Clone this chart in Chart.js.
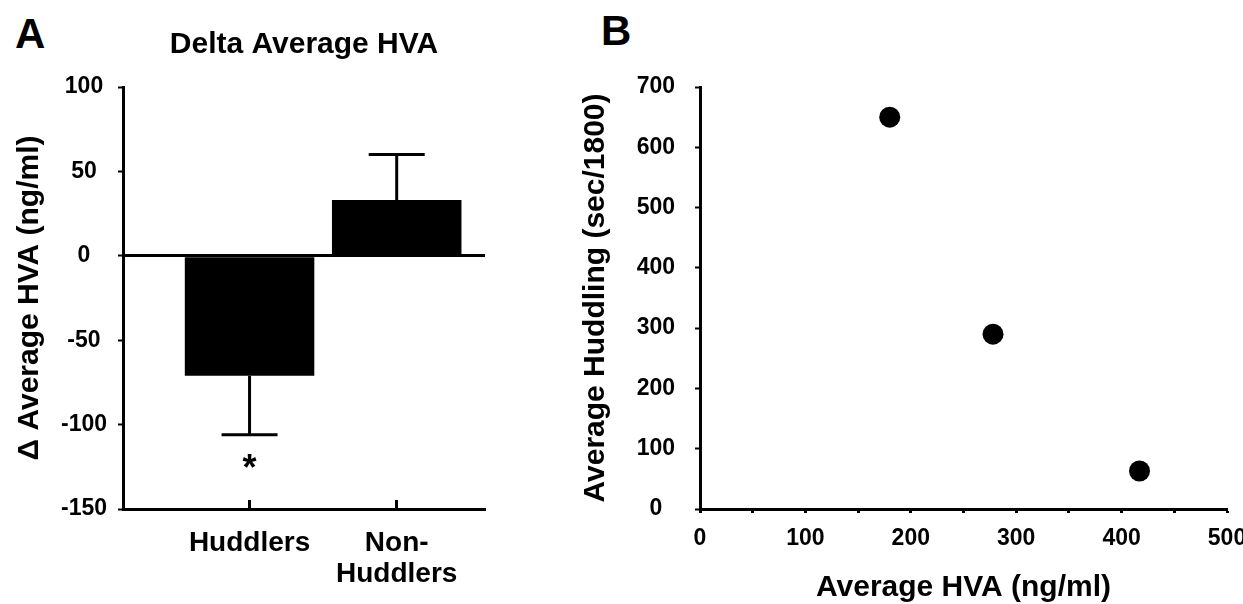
<!DOCTYPE html>
<html>
<head>
<meta charset="utf-8">
<script src="https://cdn.jsdelivr.net/npm/chart.js@4/dist/chart.umd.min.js"></script>
<style>
  html, body { margin: 0; padding: 0; background: #fff; }
  body { width: 1243px; height: 604px; position: relative; overflow: hidden; }
  .panel { position: absolute; top: 0; height: 604px; }
  #boxA { left: 0; width: 520px; }
  #boxB { left: 540px; width: 703px; }
  .letter { position: absolute; font: bold 42px 'Liberation Sans', Arial, sans-serif; line-height: 1; color: #000; }
</style>
</head>
<body>
<div class="letter" style="left:15px; top:13px;">A</div>
<div class="letter" style="left:601px; top:10px;">B</div>
<div class="panel" id="boxA"><canvas id="chartA"></canvas></div>
<div class="panel" id="boxB"><canvas id="chartB"></canvas></div>
<script>
// panel A: change in HVA per group
const groupLabels = ['Huddlers', ['Non-', 'Huddlers']];
const deltaHVA = [-71, 33];
const deltaErr = [35, 27];
const significance = ['*', ''];
const deltaTicks = [-150, -100, -50, 0, 50, 100];

// panel B: huddling vs HVA
const hvaAvg = [180, 278, 417];
const huddlingAvg = [650, 290, 63];
const hvaTicks = [0, 50, 100, 150, 200, 250, 300, 350, 400, 450, 500];
const huddlingTicks = [0, 100, 200, 300, 400, 500, 600, 700];

const FONT = "'Liberation Sans', Arial, sans-serif";
Chart.defaults.font.family = FONT;
Chart.defaults.font.weight = 'bold';
Chart.defaults.color = '#000';

const errorBars = {
  id: 'errorBars',
  afterDatasetsDraw(chart) {
    const ctx = chart.ctx;
    const x = chart.scales.x, y = chart.scales.y;
    ctx.save();
    ctx.strokeStyle = '#000';
    ctx.fillStyle = '#000';
    ctx.lineWidth = 3;
    deltaHVA.forEach((v, i) => {
      const px = x.getPixelForValue(i + 1);
      const end = v < 0 ? v - deltaErr[i] : v + deltaErr[i];
      const y0 = y.getPixelForValue(v);
      const y1 = y.getPixelForValue(end);
      ctx.beginPath();
      ctx.moveTo(px, y0);
      ctx.lineTo(px, y1);
      ctx.moveTo(px - 28, y1);
      ctx.lineTo(px + 28, y1);
      ctx.stroke();
      if (significance[i]) {
        ctx.font = 'bold 36px ' + FONT;
        ctx.textAlign = 'center';
        ctx.textBaseline = 'middle';
        ctx.fillText(significance[i], px, y1 + 35);
      }
    });
    ctx.restore();
  }
};

new Chart(document.getElementById('chartA'), {
  type: 'bar',
  data: {
    datasets: [{
      data: deltaHVA.map((v, i) => ({ x: i + 1, y: v })),
      backgroundColor: '#000',
      borderWidth: 0,
      categoryPercentage: 1,
      barPercentage: 0.88
    }]
  },
  options: {
    responsive: true,
    maintainAspectRatio: false,
    animation: false,
    events: [],
    layout: { padding: { left: 0, right: 35, top: 0, bottom: 0 } },
    plugins: {
      legend: { display: false },
      tooltip: { enabled: false },
      title: {
        display: true,
        text: 'Delta Average HVA',
        fullSize: false,
        font: { size: 30, weight: 'bold', lineHeight: 1.2 },
        color: '#000',
        padding: { top: 27, bottom: 24 }
      }
    },
    scales: {
      x: {
        type: 'linear',
        min: 0.14,
        max: 2.6,
        offset: false,
        afterBuildTicks: s => { s.ticks = groupLabels.map((g, i) => ({ value: i + 1 })); },
        afterFit: s => { s.height = 95; s.paddingLeft = 0; s.paddingRight = 0; },
        grid: { offset: false, drawOnChartArea: false, color: '#000', tickColor: '#000', tickLength: -9, tickWidth: 3 },
        border: { display: true, color: '#000', width: 3 },
        ticks: {
          autoSkip: false,
          maxRotation: 0,
          padding: 28,
          font: { size: 28, weight: 'bold', lineHeight: 1.1 },
          callback: v => groupLabels[v - 1]
        }
      },
      y: {
        min: -150,
        max: 100,
        afterBuildTicks: s => { s.ticks = deltaTicks.map(v => ({ value: v })); },
        afterFit: s => { s.width = 123; },
        grid: {
          color: c => (c.tick && c.tick.value === 0 ? '#000' : 'rgba(0,0,0,0)'),
          lineWidth: 3,
          tickColor: '#000',
          tickLength: 5,
          tickWidth: 2
        },
        border: { display: true, color: '#000', width: 3 },
        ticks: {
          crossAlign: 'center',
          padding: 11,
          font: { size: 23, weight: 'bold' }
        },
        title: {
          display: true,
          text: 'Δ Average HVA (ng/ml)',
          color: '#000',
          font: { size: 30, weight: 'bold', lineHeight: 1.2 },
          padding: { top: 12, bottom: 0 }
        }
      }
    }
  },
  plugins: [errorBars]
});

new Chart(document.getElementById('chartB'), {
  type: 'scatter',
  data: {
    datasets: [{
      data: hvaAvg.map((v, i) => ({ x: v, y: huddlingAvg[i] })),
      backgroundColor: '#000',
      borderWidth: 0,
      pointRadius: 10.5,
      pointStyle: 'circle'
    }]
  },
  options: {
    responsive: true,
    maintainAspectRatio: false,
    animation: false,
    events: [],
    layout: { padding: { left: 0, right: 16, top: 87, bottom: 0 } },
    plugins: {
      legend: { display: false },
      tooltip: { enabled: false }
    },
    scales: {
      x: {
        min: 0,
        max: 500,
        afterBuildTicks: s => { s.ticks = hvaTicks.map(v => ({ value: v })); },
        afterFit: s => { s.height = 95; s.paddingLeft = 0; s.paddingRight = 0; },
        grid: { drawOnChartArea: false, color: '#000', tickColor: '#000', tickLength: 4, tickWidth: 3 },
        border: { display: true, color: '#000', width: 3 },
        ticks: {
          autoSkip: false,
          maxRotation: 0,
          padding: 12,
          font: { size: 23, weight: 'bold' },
          callback: v => (v % 100 === 0 ? v : '')
        },
        title: {
          display: true,
          text: 'Average HVA (ng/ml)',
          color: '#000',
          font: { size: 30, weight: 'bold', lineHeight: 1.1 },
          padding: { top: 0, bottom: 0 }
        }
      },
      y: {
        min: 0,
        max: 700,
        afterBuildTicks: s => { s.ticks = huddlingTicks.map(v => ({ value: v })); },
        afterFit: s => { s.width = 160; },
        grid: { drawOnChartArea: false, color: '#000', tickColor: '#000', tickLength: 5, tickWidth: 2 },
        border: { display: true, color: '#000', width: 3 },
        ticks: {
          crossAlign: 'center',
          padding: 20,
          font: { size: 23, weight: 'bold' }
        },
        title: {
          display: true,
          text: 'Average Huddling (sec/1800)',
          color: '#000',
          font: { size: 30, weight: 'bold', lineHeight: 1.2 },
          padding: { top: 38, bottom: 0 }
        }
      }
    }
  }
});
</script>
</body>
</html>
